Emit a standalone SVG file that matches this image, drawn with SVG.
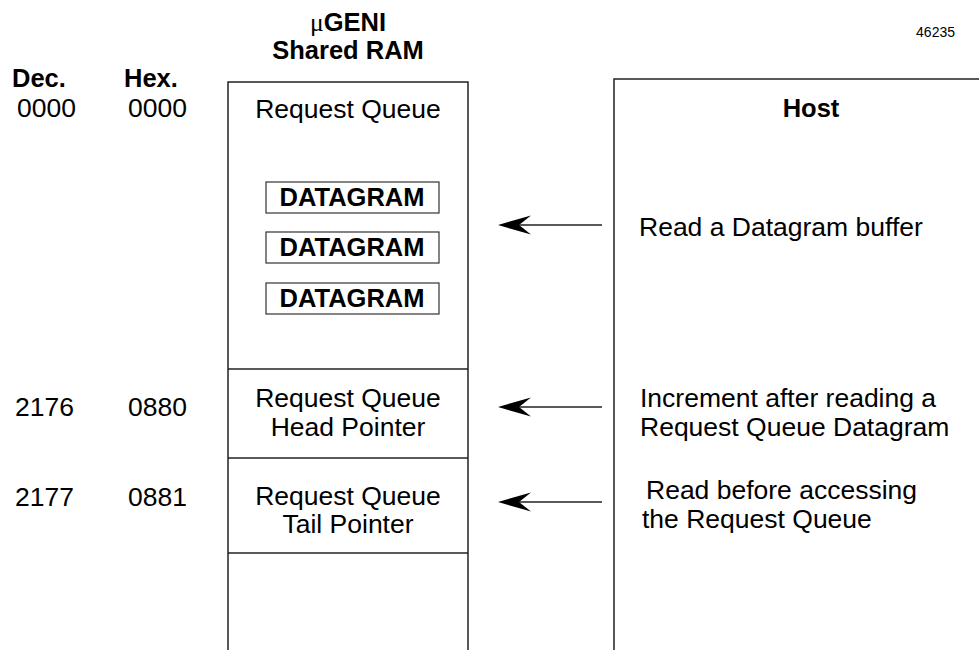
<svg xmlns="http://www.w3.org/2000/svg" width="979" height="650" viewBox="0 0 979 650">
<style>
text{font-family:"Liberation Sans",Arial,Helvetica,sans-serif;fill:#000;}
.t{font-size:26.5px;}
.b{font-size:25.5px;font-weight:bold;}
.m{text-anchor:middle;}
.ln{stroke:#222;stroke-width:1.5;fill:none;}
.dg{stroke:#333;stroke-width:1.2;fill:#fff;}
.ar{stroke:#222;stroke-width:1.3;fill:none;}
.hd{fill:#000;stroke:none;}
</style>
<rect width="979" height="650" fill="#fff"/>
<text x="955" y="37" text-anchor="end" style="font-size:14px">46235</text>
<g id="labels">
<text class="b m" x="348" y="31"><tspan style="font-family:'Liberation Serif',serif;font-weight:normal">μ</tspan>GENI</text>
<text class="b m" x="348" y="59">Shared RAM</text>
<text class="b" x="12" y="87">Dec.</text>
<text class="b" x="124" y="87">Hex.</text>
<text class="t" x="17" y="117">0000</text>
<text class="t" x="128" y="117">0000</text>
<text class="t" x="15" y="416">2176</text>
<text class="t" x="128" y="416">0880</text>
<text class="t" x="15" y="506">2177</text>
<text class="t" x="128" y="506">0881</text>
</g>
<g id="shared-ram">
<path class="ln" d="M228,650 V82 H468 V650"/>
<text class="t m" x="348" y="118">Request Queue</text>
</g>
<g id="datagram1">
<rect class="dg" x="266" y="182" width="173" height="31"/>
<text class="b m" x="352" y="206">DATAGRAM</text>
</g>
<g id="datagram2">
<rect class="dg" x="266" y="232" width="173" height="31"/>
<text class="b m" x="352" y="256">DATAGRAM</text>
</g>
<g id="datagram3">
<rect class="dg" x="266" y="283" width="173" height="31"/>
<text class="b m" x="352" y="307">DATAGRAM</text>
</g>
<g id="head-pointer">
<line class="ln" x1="228" y1="369" x2="468" y2="369"/>
<text class="t m" x="348" y="407">Request Queue</text>
<text class="t m" x="348" y="436">Head Pointer</text>
</g>
<g id="tail-pointer">
<line class="ln" x1="228" y1="458" x2="468" y2="458"/>
<text class="t m" x="348" y="505">Request Queue</text>
<text class="t m" x="348" y="533">Tail Pointer</text>
<line class="ln" x1="228" y1="553" x2="468" y2="553"/>
</g>
<g id="host">
<path class="ln" d="M614,650 V79 H979"/>
<text class="b m" x="811" y="117">Host</text>
<text class="t" x="639" y="236">Read a Datagram buffer</text>
<text class="t" x="640" y="407">Increment after reading a</text>
<text class="t" x="640" y="436">Request Queue Datagram</text>
<text class="t" x="646" y="499">Read before accessing</text>
<text class="t" x="642" y="528">the Request Queue</text>
</g>
<g id="connectors">
<line class="ar" x1="602" y1="225" x2="515" y2="225"/>
<path class="hd" d="M498,225 L531,215.5 L519,225 L531,234.5 Z"/>
<line class="ar" x1="602" y1="407" x2="515" y2="407"/>
<path class="hd" d="M498,407 L531,397.5 L519,407 L531,416.5 Z"/>
<line class="ar" x1="602" y1="502" x2="515" y2="502"/>
<path class="hd" d="M498,502 L531,492.5 L519,502 L531,511.5 Z"/>
</g>
</svg>
